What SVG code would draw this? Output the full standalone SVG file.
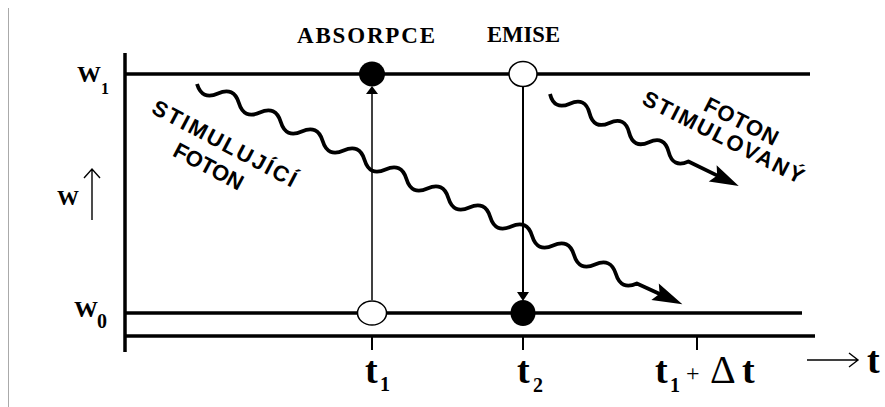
<svg xmlns="http://www.w3.org/2000/svg" width="885" height="407" viewBox="0 0 885 407">
<style>
.ax{stroke:#000;stroke-width:3.5;fill:none}
.thin{stroke:#000;stroke-width:1.4;fill:none}
.wave{stroke:#000;stroke-width:3.8;fill:none;stroke-linejoin:round}
.ser{font-family:"Liberation Serif","Times New Roman",serif;font-weight:bold;fill:#000}
.reg{font-family:"Liberation Serif","Times New Roman",serif;font-weight:normal;fill:#000}
.sans{font-family:"Liberation Sans",Arial,sans-serif;font-weight:bold;font-size:22px;fill:#000}
.open{fill:#fff;stroke:#000;stroke-width:1.5}
.full{fill:#000}
</style>
<rect width="885" height="407" fill="#fff"/>
<line x1="8.5" y1="8" x2="8.5" y2="407" stroke="#aaa" stroke-width="1"/>

<g id="axes">
  <line class="ax" x1="125" y1="53" x2="125" y2="352" stroke-width="4"/>
  <line class="ax" x1="125" y1="74" x2="810" y2="74"/>
  <line class="ax" x1="125" y1="313" x2="802" y2="313"/>
  <line class="ax" x1="125" y1="336" x2="815" y2="336"/>
  <line x1="372" y1="336" x2="372" y2="350" stroke="#000" stroke-width="2"/>
  <line x1="523" y1="336" x2="523" y2="350" stroke="#000" stroke-width="2"/>
  <line x1="697" y1="336" x2="697" y2="350" stroke="#000" stroke-width="2"/>
</g>

<g id="labels">
  <text class="ser" font-size="24"><tspan x="77" y="82">W</tspan><tspan x="101" y="94" font-size="16">1</tspan></text>
  <text class="ser" font-size="24"><tspan x="74" y="317">W</tspan><tspan x="97" y="328" font-size="20">0</tspan></text>
  <text class="ser" font-size="22" x="57" y="205">W</text>
  <path class="thin" d="M92 220V169M84 178L92 169L100 178"/>
  <text class="ser" font-size="23" x="297" y="43" textLength="138" lengthAdjust="spacing">ABSORPCE</text>
  <text class="ser" font-size="23" x="487" y="42" textLength="73" lengthAdjust="spacingAndGlyphs">EMISE</text>
  <text class="ser" font-size="38"><tspan x="365" y="383">t</tspan><tspan x="380" y="391" font-size="20">1</tspan></text>
  <text class="ser" font-size="38"><tspan x="517" y="383">t</tspan><tspan x="533" y="392" font-size="20">2</tspan></text>
  <text class="ser" font-size="38"><tspan x="655" y="383">t</tspan><tspan x="670" y="392" font-size="20">1</tspan><tspan class="reg" x="686" y="381" font-size="24" font-weight="normal">+</tspan><tspan x="710" y="383" font-size="40" font-weight="normal">Δ</tspan><tspan x="742" y="383">t</tspan></text>
  <path class="thin" d="M807 360H858M849 353L858 360L849 367"/>
  <text class="ser" font-size="38" x="867" y="373">t</text>
</g>

<g id="photon-text">
  <text class="sans" transform="translate(221,150) rotate(28)" text-anchor="middle" textLength="160" lengthAdjust="spacing">STIMULUJÍCÍ</text>
  <text class="sans" transform="translate(205,173) rotate(28)" text-anchor="middle" textLength="76" lengthAdjust="spacing">FOTON</text>
  <text class="sans" transform="translate(738,128) rotate(27)" text-anchor="middle" textLength="80" lengthAdjust="spacing">FOTON</text>
  <text class="sans" transform="translate(720,144) rotate(27)" text-anchor="middle" textLength="178" lengthAdjust="spacing">STIMULOVANÝ</text>
</g>

<g id="connectors">
  <line x1="372" y1="300" x2="372" y2="90" stroke="#000" stroke-width="1.5"/>
  <path class="full" d="M372 86L378 94H366Z"/>
  <line x1="523" y1="86" x2="523" y2="296" stroke="#000" stroke-width="2"/>
  <path class="full" d="M523 301L517 292H529Z"/>
  <g id="photon1" transform="translate(197,84) rotate(24.4)">
    <path class="wave" d="M0 0q11.5 13 23 0t23 0t23 0t23 0t23 0t23 0t23 0t23 0t23 0t23 0t23 0t23 0t23 0t23 0t23 0t23 0t23 0t23 0t23 0t23 0t23 0L510 0"/>
    <path class="full" d="M533 0L503 -9L508 0L503 9Z"/>
  </g>
  <g id="photon2" transform="translate(550,94) rotate(26)">
    <path class="wave" d="M0 0q11 13 22 0t22 0t22 0t22 0t22 0t22 0t22 0L188 0"/>
    <path class="full" d="M210 0L181 -9L186 0L181 9Z"/>
  </g>
</g>

<g id="state-absorb-top"><ellipse class="full" cx="372" cy="74" rx="13" ry="12.5"/></g>
<g id="state-emit-top"><ellipse class="open" cx="523" cy="74" rx="14" ry="12.5"/></g>
<g id="state-absorb-bottom"><ellipse class="open" cx="372" cy="313" rx="14.5" ry="12"/></g>
<g id="state-emit-bottom"><ellipse class="full" cx="523" cy="313" rx="12.5" ry="13"/></g>
</svg>
